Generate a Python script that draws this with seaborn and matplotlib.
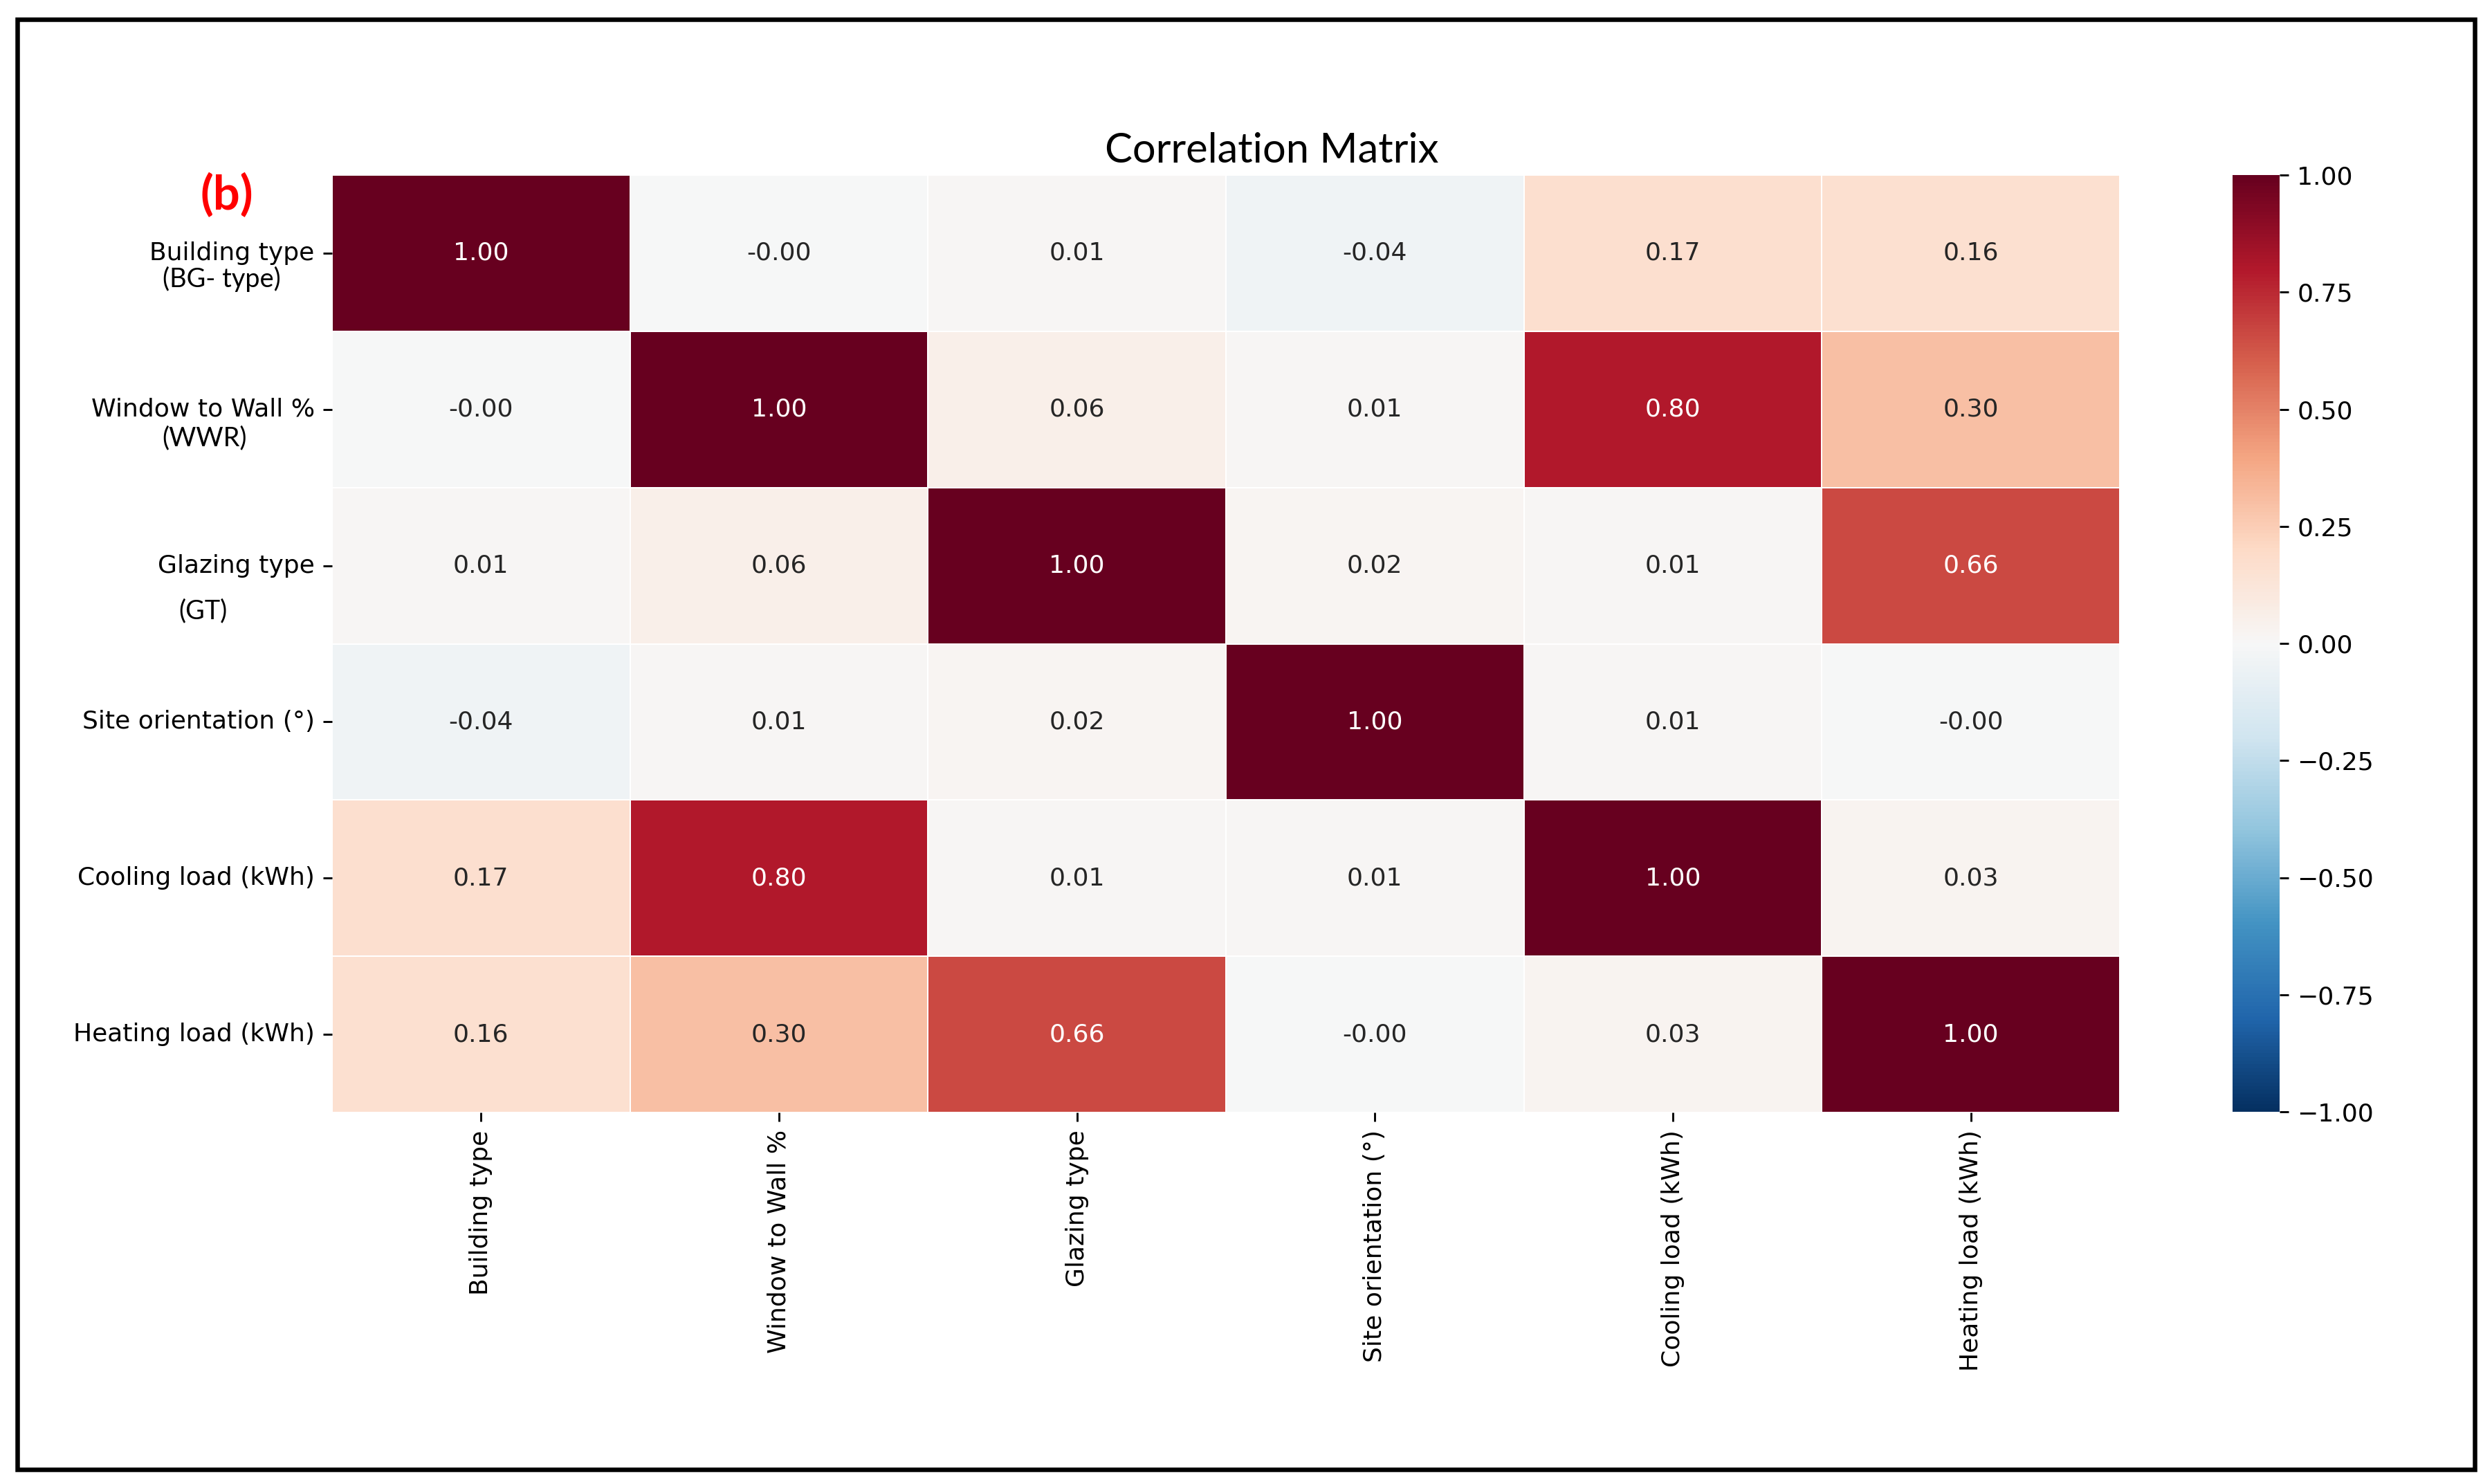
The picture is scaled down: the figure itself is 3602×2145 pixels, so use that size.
import numpy as np
import pandas as pd
import matplotlib
matplotlib.use("Agg")
import matplotlib.pyplot as plt
import seaborn as sns
from matplotlib.patches import Rectangle

# variables in the correlation matrix
labels = ["Building type", "Window to Wall %", "Glazing type",
          "Site orientation (°)", "Cooling load (kWh)", "Heating load (kWh)"]
short_names = ["(BG- type)", "(WWR)", "(GT)"]

# correlation values (tiny negatives print as -0.00)
r_building = [1.00, -0.002, 0.01, -0.04, 0.17, 0.16]
r_wwr = [-0.002, 1.00, 0.06, 0.01, 0.80, 0.30]
r_glazing = [0.01, 0.06, 1.00, 0.02, 0.01, 0.66]
r_orient = [-0.04, 0.01, 0.02, 1.00, 0.01, -0.002]
r_cooling = [0.17, 0.80, 0.01, 0.01, 1.00, 0.03]
r_heating = [0.16, 0.30, 0.66, -0.002, 0.03, 1.00]

corr = pd.DataFrame([r_building, r_wwr, r_glazing, r_orient, r_cooling, r_heating],
                    index=labels, columns=labels)

W, H, DPI = 3602, 2145, 260
fig = plt.figure(figsize=(W / DPI, H / DPI), dpi=DPI)
ax = fig.add_axes([480 / W, 1 - 1608 / H, 2584 / W, 1355 / H])
cax = fig.add_axes([3227 / W, 1 - 1607 / H, 68 / W, 1354 / H])

sns.heatmap(corr, ax=ax, cbar_ax=cax, cmap="RdBu_r", vmin=-1, vmax=1,
            annot=True, fmt=".2f", linewidths=0.5, linecolor="white",
            annot_kws={"fontsize": 10})

ax.set_xticklabels(labels, rotation=90, fontsize=10)
ax.set_yticklabels(labels, rotation=0, fontsize=10)
ax.tick_params(colors="black")
cax.set_yticks(np.arange(-1, 1.01, 0.25))
cax.tick_params(labelsize=10)

# title and extra labels drawn in a different font, as in the reference
fig.text(1838 / W, 1 - 218 / H, "Correlation Matrix", ha="center", va="center",
         fontsize=16.5, family="Lato")
fig.text(328 / W, 1 - 283 / H, "(b)", ha="center", va="center",
         fontsize=19, family="Lato", fontweight="bold", color="red")
for txt, xc, yc in zip(short_names, [320, 296, 293], [403, 633, 883]):
    fig.text(xc / W, 1 - yc / H, txt, ha="center", va="center",
             fontsize=10.5, family="Lato")

# outer black frame
fig.patches.append(Rectangle((25 / W, 1 - 2124 / H), 3552 / W, 2096 / H,
                             transform=fig.transFigure, fill=False,
                             edgecolor="black", linewidth=1.8))

fig.savefig("out.png", dpi=DPI, facecolor="white")
